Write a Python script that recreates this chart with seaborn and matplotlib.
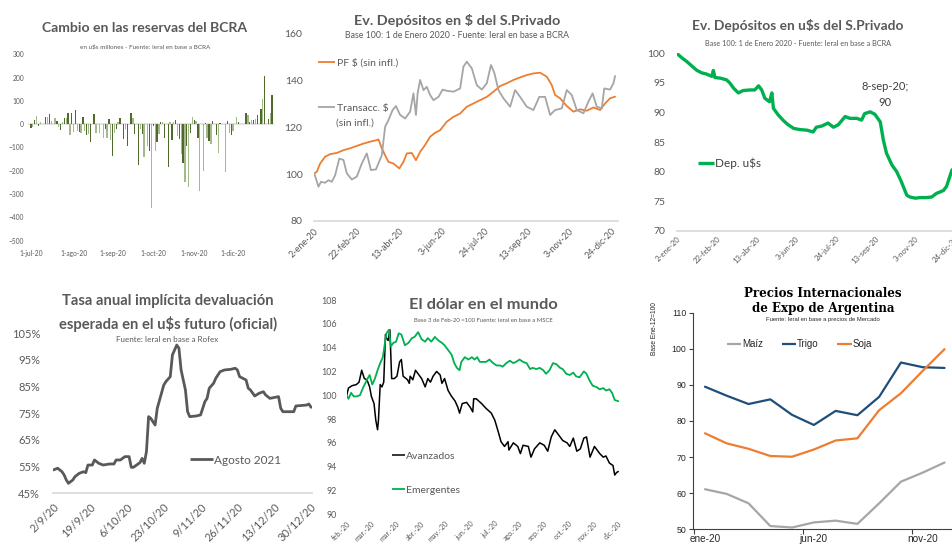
import numpy as np
import pandas as pd
import matplotlib
matplotlib.use("Agg")
import matplotlib.pyplot as plt
from matplotlib.lines import Line2D
import seaborn as sns

# ======================= DATA =======================
# Panel 1: Cambio diario en las reservas del BCRA (u$s millones), dias habiles jul-dic 2020
res_jul = [-17, -14, 18, 35, -7, 10, 0, 0, 32, 32, 42, 14, 0, 28, 14, -14, -25, 10, 28, 28, 49, -45, 49]
res_ago = [-35, 63, -28, -32, -39, 32, -28, -45, -42, -77, 0, 42, -38, 0, -38, 0, -60, -21, -60, 21, -68]
res_sep = [-138, -38, -21, 10, 28, 0, -63, -21, -92, 0, 49, 28, -42, 0, -173, -21, -42, -142, 0, -92, -117, -360]
res_oct = [-7, -113, -75, -42, 10, 11, -60, 0, -183, 11, -66, 11, 18, -49, -63, -127, -165, -250, -94, -269, -38, 32]
res_nov = [18, 14, -59, -285, 0, -200, 4, -59, -73, -85, 14, 0, -46, -124, 7, 0, 0, -207, 14, -38, -46]
res_dic = [-28, 0, 32, 11, 0, 0, 0, 49, 38, 10, 18, 18, 21, 39, 0, 66, 108, 207, 0, 24, 46, 127]
res_tick_labels = ['1-jul-20', '1-ago-20', '1-sep-20', '1-oct-20', '1-nov-20', '1-dic-20']

# Panel 2: Depositos en $ (dia del anio 2020, base 100)
pf_dia = [2, 5, 9, 15, 21, 29, 37, 45, 53, 61, 69, 77, 79, 83, 87, 91, 97, 104, 109, 113,
          119, 124, 129, 135, 141, 147, 153, 161, 169, 177, 185, 193, 201, 209, 217, 225, 233, 241, 249, 257,
          265, 273, 281, 287, 291, 297, 305, 313, 321, 329, 337, 345, 351, 357, 363]
pf_val = [100.3, 101, 104.5, 107.4, 108.5, 109, 110.2, 111, 112, 113, 113.8, 114.5, 114.8, 111, 108, 105.2, 104.5, 102.4, 105.2, 108.8,
          109, 105.9, 109.5, 112.4, 115.9, 117.6, 118.7, 122.3, 124.4, 125.8, 128.7, 130.1, 131.5, 132.9, 135.1, 137.5, 138.7, 140.1, 141.2, 142.2,
          142.9, 143.2, 141.5, 137.9, 133.7, 132.3, 129, 126.6, 127.6, 127, 128.4, 127.3, 130.1, 132.3, 133]
tr_dia = [2, 7, 10, 15, 19, 23, 27, 32, 37, 41, 47, 53, 59, 65, 70, 76, 83, 87, 91, 96,
          100, 105, 111, 117, 121, 124, 126, 129, 133, 137, 141, 145, 151, 156, 161, 169, 177, 181, 185, 191,
          197, 203, 209, 214, 218, 223, 229, 237, 243, 249, 257, 265, 272, 279, 285, 291, 299, 305, 311, 317,
          325, 331, 336, 341, 347, 350, 357, 361, 363]
tr_val = [100.3, 94.6, 96.7, 96.3, 97.4, 96.7, 99.5, 106.6, 106, 100.3, 97.7, 98.9, 104.5, 108.8, 101.7, 102, 108, 120.2, 123, 127.3,
          129, 125.2, 123.7, 126.6, 134.4, 125.2, 134.4, 140.1, 135.8, 137.2, 133.7, 131.5, 132.9, 136, 135.5, 135.1, 136.5, 145.8, 147.9, 145.1,
          137.9, 136, 138.7, 146.5, 143.2, 135.8, 132.3, 128.7, 135.8, 132.9, 128.7, 127.3, 132.9, 132.9, 125.2, 127.3, 128, 135.8, 133.7, 127.3,
          125.9, 130.9, 134.4, 128.7, 128, 136.5, 136, 138.7, 141.8]
dep_tick_fechas = ['2020-01-02', '2020-02-22', '2020-04-13', '2020-06-03', '2020-07-24', '2020-09-13', '2020-11-03', '2020-12-24']
dep_tick_labels = ['2-ene-20', '22-feb-20', '13-abr-20', '3-jun-20', '24-jul-20', '13-sep-20', '3-nov-20', '24-dic-20']

# Panel 3: Depositos en u$s (dia del anio 2020, base 100)
usd_dia = [2, 8, 15, 21, 28, 34, 40, 47, 49, 51, 58, 66, 70, 75, 81, 87, 96, 102, 107, 111,
           115, 121, 124, 126, 132, 139, 145, 152, 160, 169, 177, 181, 188, 196, 203, 209, 218, 224, 233, 239,
           243, 250, 256, 263, 267, 271, 278, 284, 290, 297, 301, 308, 314, 322, 329, 335, 344, 348, 352, 355]
usd_val = [100, 99.3, 98.6, 97.9, 97.1, 96.7, 96.5, 96.1, 97.1, 95.9, 95.8, 95.5, 95, 94.1, 93.3, 93.7, 93.8, 93.8, 94.5, 93.8,
           92.4, 91.8, 93.3, 90.7, 89.6, 88.6, 87.9, 87.3, 87.1, 87, 86.7, 87.5, 87.7, 88.2, 87.5, 87.9, 89.3, 89, 89, 88.7,
           89.8, 90.1, 89.7, 88.4, 85.3, 83.1, 81.1, 80, 78.3, 76, 75.7, 75.5, 75.6, 75.6, 75.7, 76.3, 76.8, 77.5, 79.1, 80.3]

# Panel 4: Tasa anual implicita (dias desde 2-sep-2020, %)
tasa_dia = [0, 2, 4, 5, 6, 7, 9, 10, 12, 14, 15, 16, 18, 19, 21, 23, 26, 28, 29, 31,
            33, 35, 36, 37, 40, 41, 42, 43, 44, 45, 47, 48, 51, 52, 54, 55, 57, 58, 59, 61,
            62, 63, 66, 68, 70, 71, 72, 74, 75, 77, 79, 82, 84, 85, 86, 89, 90, 91, 93, 95,
            97, 98, 100, 104, 105, 106, 111, 112, 117, 118, 119]
tasa_val = [53.75, 54.4, 53.1, 51.9, 50, 48.75, 50, 51.25, 52.5, 53.1, 52.75, 55.6, 55.6, 57.5, 56.25, 55.6, 56, 56, 57.5, 57.5,
            58.75, 58.75, 54.75, 54.75, 56.5, 58.1, 56.25, 60.6, 73.75, 73.1, 70.6, 76.9, 85.6, 86.9, 88.75, 96.9, 100.6, 99.4, 91.25, 83.75,
            75.6, 73.75, 74, 74.4, 79.4, 80.6, 84.4, 86.25, 88.1, 90.6, 91.25, 91.5, 91.9, 91.25, 88.75, 87.5, 84.4, 83.75, 81.5, 82.5,
            83.1, 81.9, 80.6, 81.25, 76.9, 75.6, 75.6, 77.75, 78.1, 78.5, 77.25]
tasa_tick_fechas = ['2020-09-02', '2020-09-19', '2020-10-06', '2020-10-23', '2020-11-09', '2020-11-26', '2020-12-13', '2020-12-30']
tasa_tick_labels = ['2/9/20', '19/9/20', '6/10/20', '23/10/20', '9/11/20', '26/11/20', '13/12/20', '30/12/20']

# Panel 5: El dolar en el mundo (dias desde 3-feb-2020, base 100)
av_dia = [0, 2, 6, 11, 14, 17, 20, 23, 26, 28, 31, 33, 35, 36, 38, 40, 42, 44, 45, 47,
          49, 51, 54, 57, 60, 62, 64, 69, 71, 72, 75, 78, 81, 85, 89, 92, 95, 98, 102, 106,
          108, 111, 113, 115, 119, 123, 126, 128, 131, 136, 140, 143, 144, 147, 153, 158, 164, 168, 172, 175,
          179, 183, 184, 189, 194, 197, 200, 206, 209, 213, 219, 224, 228, 232, 236, 240, 245, 250, 253, 257,
          261, 265, 269, 272, 276, 281, 287, 291, 294, 298, 302, 304, 306, 308]
av_val = [100.0, 100.6, 100.8, 100.9, 101.1, 102.1, 101.4, 101.3, 100.7, 99.9, 99.3, 97.9, 97.1, 97.9, 100.9, 100.7, 101.1, 105.1, 104.8, 104.6,
          105.5, 101.4, 101.4, 101.6, 102.8, 103, 101.6, 101.3, 101, 101.6, 101.3, 102.1, 101.8, 101.4, 100.7, 101.4, 101.1, 101.6, 102, 101.7,
          101, 101.4, 100.9, 100.4, 99.9, 99.5, 99.0, 98.5, 99.3, 99.4, 99.0, 98.6, 99.7, 99.7, 99.3, 98.9, 98.5, 97.9, 96.9, 96.1,
          95.7, 96.1, 95.4, 96.0, 95.7, 95.1, 95.8, 95.7, 94.8, 95.5, 96.0, 95.8, 95.3, 96.5, 97.1, 96.7, 96.2, 96.0, 95.7, 96.4,
          95.3, 95.5, 96.4, 96.5, 94.8, 95.7, 95.1, 94.8, 94.9, 94.3, 94.1, 93.3, 93.5, 93.6]
em_dia = [0, 2, 5, 8, 11, 15, 19, 23, 26, 29, 32, 35, 38, 41, 43, 45, 48, 50, 53, 56,
          59, 62, 66, 70, 74, 77, 81, 85, 89, 92, 96, 100, 104, 108, 111, 115, 119, 122, 125, 128,
          130, 134, 138, 142, 145, 148, 151, 155, 158, 162, 166, 170, 174, 177, 181, 185, 189, 192, 196, 200,
          204, 208, 211, 215, 219, 223, 226, 230, 234, 238, 242, 245, 249, 253, 257, 260, 264, 269, 272, 275,
          279, 283, 287, 291, 294, 298, 301, 304, 308]
em_val = [100.0, 99.7, 100.2, 99.9, 99.9, 100, 100.7, 101.3, 101.7, 100.9, 101.4, 102.1, 102.7, 103.2, 104.2, 105.2, 105.5, 104.1, 104.4, 104.5,
          105.2, 105.1, 104.2, 104.4, 104.8, 104.9, 105.3, 104.7, 104.5, 104.8, 104.5, 104.9, 104.6, 104.4, 104.2, 103.8, 103.4, 102.7, 102.3, 102.1,
          102.8, 103.2, 103.0, 103.2, 103.0, 103.2, 102.8, 102.8, 102.8, 103.0, 102.7, 102.5, 102.5, 102.4, 102.7, 102.9, 102.7, 102.8, 103.0, 102.8,
          102.7, 102.2, 102.3, 102.2, 102.3, 102.1, 101.8, 102.1, 102.7, 102.6, 102.3, 102.2, 101.8, 101.7, 101.9, 101.6, 101.5, 102.0, 101.8, 101.3,
          100.8, 100.7, 100.5, 100.6, 100.4, 100.5, 100.2, 99.6, 99.5]
dolar_tick_fechas = ['2020-02-03', '2020-03-02', '2020-03-30', '2020-04-27', '2020-05-25', '2020-06-22',
                     '2020-07-20', '2020-08-17', '2020-09-14', '2020-10-12', '2020-11-09', '2020-12-07']
dolar_tick_labels = ['feb.-20', 'mar.-20', 'mar.-20', 'abr.-20', 'may.-20', 'jun.-20',
                     'jul.-20', 'ago.-20', 'sep.-20', 'oct.-20', 'nov.-20', 'dic.-20']

# Panel 6: Precios internacionales (mensual 2020)
meses = ['ene-20', 'feb-20', 'mar-20', 'abr-20', 'may-20', 'jun-20',
         'jul-20', 'ago-20', 'sep-20', 'oct-20', 'nov-20', 'dic-20']
maiz = [61.1, 59.8, 57.2, 50.9, 50.5, 51.9, 52.4, 51.5, 57.2, 63.2, 65.7, 68.5]
trigo = [89.5, 87.0, 84.7, 86.0, 81.7, 78.9, 82.8, 81.6, 86.7, 96.2, 94.9, 94.7]
soja = [76.6, 73.8, 72.3, 70.3, 70.1, 72.1, 74.6, 75.2, 83.0, 87.7, 93.9, 99.9]

# ======================= STYLE =======================
sns.set_theme(style="white")
plt.rcParams['font.family'] = ['Lato', 'DejaVu Sans']
GRAY = '#595959'
W, H = 952, 550
fig = plt.figure(figsize=(W / 100, H / 100), dpi=100)
fig.patch.set_facecolor('white')


def axes_px(left, top, right, bottom):
    ax = fig.add_axes([left / W, 1 - bottom / H, (right - left) / W, (bottom - top) / H])
    ax.set_facecolor('none')
    return ax


def ftext(x, y, s, **kw):
    kw.setdefault('ha', 'center')
    kw.setdefault('va', 'center')
    return fig.text(x / W, 1 - y / H, s, **kw)


def flegend(color, lw, label, x, y, fs, hlen_px, tcolor=GRAY, family='Lato', gap=0.15):
    fs_px = fs * 100 / 72
    h = Line2D([], [], color=color, lw=lw, solid_capstyle='butt')
    return fig.legend([h], [label], loc='center left', bbox_to_anchor=(x / W, 1 - y / H),
                      bbox_transform=fig.transFigure, frameon=False, borderpad=0, borderaxespad=0,
                      handlelength=hlen_px / fs_px, handletextpad=gap,
                      prop={'family': family, 'size': fs}, labelcolor=tcolor)


def dates_from(base, days):
    return pd.Timestamp(base) + pd.to_timedelta(np.asarray(days, dtype=float), unit='D')


def rot_labels(ax, fs, color=GRAY):
    for lab in ax.get_xticklabels():
        lab.set(rotation=45, ha='right', va='top', rotation_mode='anchor', fontsize=fs, color=color)


def clean(ax):
    ax.set_xlabel('')
    ax.set_ylabel('')


# ======================= PANEL 1 =======================
ax1 = axes_px(28.2, 54.3, 273.9, 240.7)
res_vals = res_jul + res_ago + res_sep + res_oct + res_nov + res_dic
res_fechas = pd.bdate_range('2020-07-01', '2020-12-30')[:len(res_vals)]
df1 = pd.DataFrame({'i': np.arange(len(res_vals)), 'v': res_vals,
                    'tono': ['osc' if k % 2 == 0 else 'cla' for k in range(len(res_vals))]})
ax1.axhline(0, color='#D9D9D9', lw=1.1, zorder=0)
sns.barplot(data=df1, x='i', y='v', hue='tono', palette={'osc': '#4E6B2B', 'cla': '#A4BA8C'},
            dodge=False, legend=False, width=0.7, saturation=1, linewidth=0, ax=ax1)
ax1.set_xlim(-1.5, len(res_vals))
ax1.set_ylim(-500, 300)
ax1.set_yticks(range(-500, 301, 100))
first_idx = [k for k in range(len(res_fechas)) if k == 0 or res_fechas[k].month != res_fechas[k - 1].month]
ax1.set_xticks(first_idx)
ax1.set_xticklabels(res_tick_labels)
ax1.tick_params(axis='both', length=0, labelsize=4.8, labelcolor=GRAY)
ax1.tick_params(axis='x', pad=7)
ax1.tick_params(axis='y', pad=3)
clean(ax1)
for s in ax1.spines.values():
    s.set_visible(False)
ftext(145, 28, 'Cambio en las reservas del BCRA', fontsize=10.1, fontweight='bold', color=GRAY)
ftext(145, 47, 'en u$s millones - Fuente: Ieral en base a BCRA', fontsize=4.6, color=GRAY)

# ======================= PANEL 2 =======================
ax2 = axes_px(314.3, 33.3, 617.6, 221)
sns.lineplot(x=dates_from('2019-12-31', pf_dia), y=pf_val, color='#ED7D31', lw=1.3, ax=ax2)
sns.lineplot(x=dates_from('2019-12-31', tr_dia), y=tr_val, color='#A5A5A5', lw=1.3, ax=ax2)
ax2.set_ylim(80, 160)
ax2.set_yticks(range(80, 161, 20))
ax2.set_xlim(pd.Timestamp('2020-01-02'), pd.Timestamp('2020-12-31'))
ax2.set_xticks(pd.to_datetime(dep_tick_fechas))
ax2.set_xticklabels(dep_tick_labels)
ax2.tick_params(axis='both', length=0, labelcolor=GRAY)
ax2.tick_params(axis='y', labelsize=7.5, pad=8.5)
ax2.tick_params(axis='x', pad=4)
rot_labels(ax2, 6.5)
clean(ax2)
for k, s in ax2.spines.items():
    s.set_visible(k == 'bottom')
ax2.spines['bottom'].set_color('#D9D9D9')
ftext(457, 20.5, 'Ev. Depósitos en $ del S.Privado', fontsize=10.4, fontweight='bold', color=GRAY)
ftext(457, 36, 'Base 100: 1 de Enero 2020 - Fuente: Ieral en base a BCRA', fontsize=6.3, color=GRAY)
flegend('#ED7D31', 1.3, 'PF $ (sin infl.)', 318, 63, 7.5, 17)
flegend('#A5A5A5', 1.3, 'Transacc. $', 318, 108, 7.5, 17)
ftext(336, 123, '(sin infl.)', fontsize=7.5, color=GRAY, ha='left')

# ======================= PANEL 3 =======================
ax3 = axes_px(676.7, 53.3, 960.6, 230.7)
sns.lineplot(x=dates_from('2019-12-31', usd_dia), y=usd_val, color='#00B050', lw=2.4, ax=ax3)
ax3.set_ylim(70, 100)
ax3.set_yticks(range(70, 101, 5))
ax3.set_xlim(pd.Timestamp('2020-01-02'), pd.Timestamp('2020-12-31'))
ax3.set_xticks(pd.to_datetime(dep_tick_fechas))
ax3.set_xticklabels(dep_tick_labels)
ax3.tick_params(axis='both', length=0, labelcolor=GRAY)
ax3.tick_params(axis='y', labelsize=7.5, pad=8.4)
ax3.tick_params(axis='x', pad=3)
rot_labels(ax3, 5.6)
clean(ax3)
for k, s in ax3.spines.items():
    s.set_visible(k == 'bottom')
ax3.spines['bottom'].set_color('#D9D9D9')
ftext(798, 26, 'Ev. Depósitos en u$s del S.Privado', fontsize=9.9, fontweight='bold', color=GRAY)
ftext(798, 43, 'Base 100: 1 de Enero 2020 - Fuente: Ieral en base a BCRA', fontsize=5.2, color=GRAY)
ftext(885, 87, '8-sep-20;', fontsize=8, color='#404040')
ftext(885, 103, '90', fontsize=8, color='#404040')
flegend('#00B050', 2.4, 'Dep. u$s', 698, 163, 8.5, 16, tcolor='#404040', gap=0.1)

# ======================= PANEL 4 =======================
ax4 = axes_px(53.3, 333.3, 311.7, 493.3)
sns.lineplot(x=dates_from('2020-09-02', tasa_dia), y=tasa_val, color=GRAY, lw=2.0, ax=ax4)
ax4.set_ylim(45, 105)
ax4.set_yticks(range(45, 106, 10))
ax4.set_yticklabels([f'{v}%' for v in range(45, 106, 10)])
ax4.set_xlim(pd.Timestamp('2020-09-02'), pd.Timestamp('2020-09-02') + pd.Timedelta(days=119.3))
ax4.set_xticks(pd.to_datetime(tasa_tick_fechas))
ax4.set_xticklabels(tasa_tick_labels)
ax4.tick_params(axis='both', length=0, labelcolor=GRAY)
ax4.tick_params(axis='y', labelsize=8, pad=9.5)
ax4.tick_params(axis='x', pad=6)
rot_labels(ax4, 8)
clean(ax4)
for k, s in ax4.spines.items():
    s.set_visible(k == 'bottom')
ax4.spines['bottom'].set_color('#D9D9D9')
ftext(168, 301.5, 'Tasa anual implícita devaluación', fontsize=10.6, fontweight='bold', color=GRAY)
ftext(168, 323.5, 'esperada en el u$s futuro (oficial)', fontsize=10.6, fontweight='bold', color=GRAY)
ftext(167, 340, 'Fuente: Ieral en base a Rofex', fontsize=5.8, color=GRAY)
flegend(GRAY, 2.0, 'Agosto 2021', 190, 460, 8.5, 23, gap=0.05)

# ======================= PANEL 5 =======================
ax5 = axes_px(346.7, 300, 618.7, 514.3)
sns.lineplot(x=dates_from('2020-02-03', av_dia), y=av_val, color='black', lw=1.1, ax=ax5)
sns.lineplot(x=dates_from('2020-02-03', em_dia), y=em_val, color='#00B050', lw=1.3, ax=ax5)
ax5.set_ylim(90, 108)
ax5.set_yticks(range(90, 109, 2))
ax5.set_xlim(pd.Timestamp('2020-02-03'), pd.Timestamp('2020-02-03') + pd.Timedelta(days=308.5))
ax5.set_xticks(pd.to_datetime(dolar_tick_fechas))
ax5.set_xticklabels(dolar_tick_labels)
ax5.tick_params(axis='both', length=0, labelcolor=GRAY)
ax5.tick_params(axis='y', labelsize=6.4, pad=7)
ax5.tick_params(axis='x', pad=4)
rot_labels(ax5, 5.2)
clean(ax5)
for k, s in ax5.spines.items():
    s.set_visible(False)
ftext(483, 305, 'El dólar en el mundo', fontsize=11.8, fontweight='bold', color=GRAY)
ftext(483, 320.5, 'Base 3 de Feb-20 =100 Fuente: Ieral en base a MSCE', fontsize=4.3, color=GRAY)
flegend('black', 1.1, 'Avanzados', 392, 456, 7.5, 13, gap=0.05)
flegend('#00B050', 1.3, 'Emergentes', 392, 490, 7.5, 13, gap=0.05)

# ======================= PANEL 6 =======================
ax6 = axes_px(693, 312.7, 955.4, 529.3)
sns.lineplot(x=meses, y=maiz, color='#A6A6A6', lw=1.6, sort=False, ax=ax6)
sns.lineplot(x=meses, y=trigo, color='#1F4E79', lw=1.6, sort=False, ax=ax6)
sns.lineplot(x=meses, y=soja, color='#ED7D31', lw=1.6, sort=False, ax=ax6)
ax6.set_ylim(50, 110)
ax6.set_yticks(range(50, 111, 10))
ax6.set_xlim(-0.55, 11.5)
ax6.set_xticks([-0.5, 4.5, 9.5])
ax6.set_xticklabels(['', '', ''])
ax6.set_xticks([0, 5, 10], minor=True)
ax6.set_xticklabels([meses[0], meses[5], meses[10]], minor=True)
ax6.tick_params(axis='x', which='major', length=3.5, width=0.8, color='#404040', direction='out', bottom=True)
ax6.tick_params(axis='x', which='minor', length=0, labelsize=7.2, labelcolor='#262626', pad=3.5, bottom=True)
ax6.tick_params(axis='y', length=3, width=0.8, color='#404040', direction='out', left=True,
                labelsize=6.3, labelcolor='#262626', pad=2)
for lab in ax6.get_xticklabels(minor=True) + ax6.get_yticklabels():
    lab.set_family(['Liberation Sans', 'DejaVu Sans'])
for k, s in ax6.spines.items():
    s.set_visible(k in ('left', 'bottom'))
    s.set_color('#404040')
    s.set_linewidth(0.8)
clean(ax6)
ftext(655, 329, 'Base Ene-12=100', fontsize=4.8, rotation=90, color='#262626',
      family=['Liberation Sans', 'DejaVu Sans'])
ftext(823, 293.5, 'Precios Internacionales', fontsize=8.6, fontweight='bold', color='black',
      family=['DejaVu Serif'])
ftext(823, 308.5, 'de Expo de Argentina', fontsize=8.6, fontweight='bold', color='black',
      family=['DejaVu Serif'])
ftext(823, 319, 'Fuente: Ieral en base a precios de Mercado', fontsize=4.2, color='#262626',
      family=['Liberation Sans', 'DejaVu Sans'])
flegend('#A6A6A6', 1.6, 'Maíz', 727, 344, 7, 14, tcolor='#262626', family='Liberation Sans', gap=0.1)
flegend('#1F4E79', 1.6, 'Trigo', 782, 344, 7, 14, tcolor='#262626', family='Liberation Sans', gap=0.1)
flegend('#ED7D31', 1.6, 'Soja', 837, 344, 7, 15, tcolor='#262626', family='Liberation Sans', gap=0.1)

fig.savefig('out.png', dpi=100, facecolor='white')
